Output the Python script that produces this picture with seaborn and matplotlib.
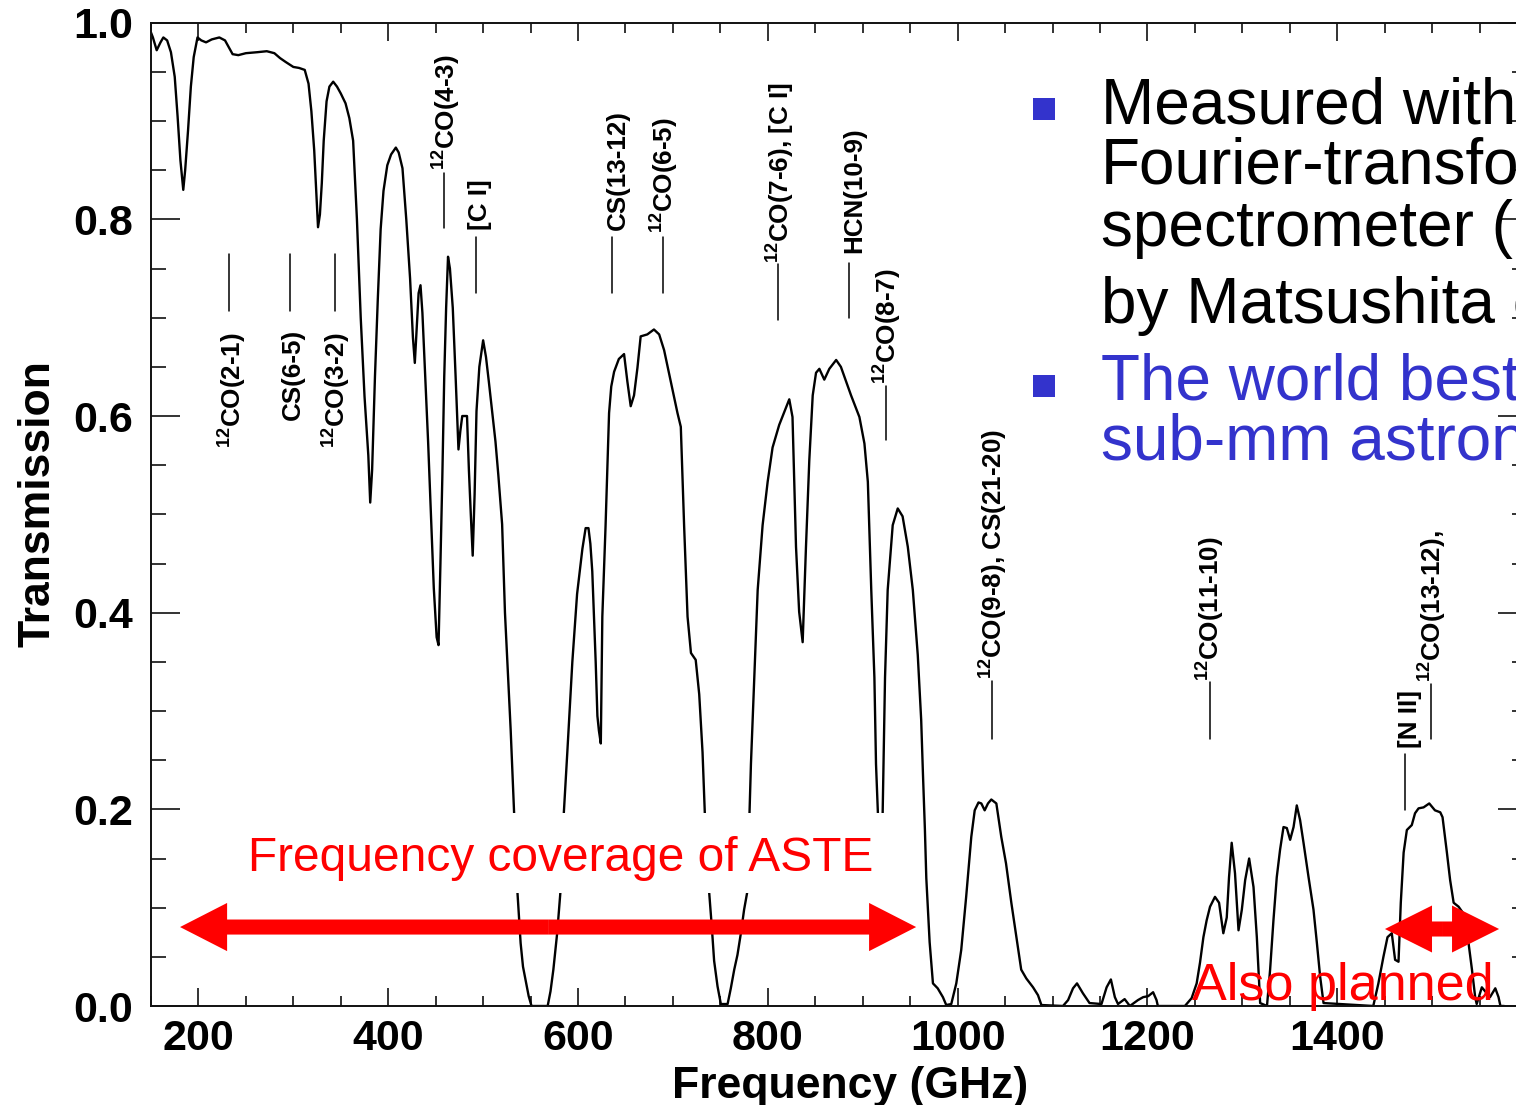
import numpy as np
import pandas as pd
import matplotlib
matplotlib.use("Agg")
import matplotlib.pyplot as plt
from matplotlib.patches import FancyArrow, Rectangle
from matplotlib.ticker import MultipleLocator, FixedLocator, FormatStrFormatter
import seaborn as sns

# ---------------- data ----------------
freq = [150, 152, 156, 160, 163, 167, 171, 175, 178, 181, 184, 186, 189, 192, 195, 199,
        203, 208, 214, 222, 228, 232, 236, 242, 250, 262, 272, 280, 286, 292, 300, 306,
        312, 316, 319, 322, 324, 326, 328, 330, 332, 335, 338, 342, 346, 350, 355, 359,
        363, 367, 371, 375, 379, 381, 383, 386, 389, 392, 395, 399, 403, 408, 411, 415,
        419, 423, 426, 428, 430, 432, 434, 436, 439, 442, 445, 448, 451, 453, 455, 457,
        459, 461, 463, 465, 468, 471, 474, 476, 478, 483, 485, 487, 489, 491, 493, 496,
        500, 503, 506, 510, 513, 516, 520, 523, 526, 529, 532, 534, 536, 539.5, 542, 545,
        548, 551, 568, 571, 574, 578, 581.6, 585, 588.7, 594, 599, 604.6, 608, 611, 613,
        615, 618.6, 620.4, 622, 624, 625.6, 629, 632.7, 635, 638, 643, 648.5, 652, 655.5,
        659, 662.6, 666, 673, 680, 685.5, 690.7, 697.8, 704.8, 708.3, 711.8, 715.4, 719,
        724, 727.7, 731.2, 733.6, 736, 738, 741, 743.4, 747, 750.5, 757.6, 761, 764.6,
        768, 771.6, 775, 778.7, 780.5, 782.2, 785.7, 789.3, 794.5, 799.8, 805, 812, 817.3,
        822.6, 826, 829.7, 833, 836.7, 840.2, 843.7, 847.3, 850.8, 854.3, 859.5, 864.8,
        872, 877, 887.7, 896.5, 901.8, 905.4, 909, 912.3, 914, 916, 918, 920, 921, 923.5,
        926.3, 931.6, 936.9, 942, 947.5, 952.8, 958, 961.6, 963.5, 965.5, 967, 970.5, 974,
        979, 984.5, 988, 993.3, 998.6, 1003.8, 1009, 1014.4, 1018, 1022, 1025, 1028.5,
        1032, 1035.5, 1040.8, 1046, 1051, 1056.6, 1061.9, 1067, 1072.4, 1079.5, 1084.7,
        1088.3, 1111, 1116.4, 1121.6, 1125.8, 1132, 1139, 1151.6, 1157, 1161.5, 1165.7,
        1169, 1176, 1181.5, 1190, 1195.5, 1200.8, 1206, 1209.6, 1211, 1239.5, 1246.6,
        1251.9, 1255.4, 1259, 1262.4, 1266, 1271.2, 1275.5, 1280, 1283.6, 1286, 1288.8,
        1292.3, 1296, 1299.5, 1303, 1307.2, 1311.8, 1315.3, 1318.8, 1326, 1329.3, 1332.8,
        1336.3, 1339.8, 1343.4, 1346.9, 1350.4, 1354, 1357.4, 1360.9, 1364.5, 1369.8,
        1375, 1378.6, 1382, 1385.6, 1438, 1443.4, 1448.7, 1453, 1457.5, 1461, 1464.6,
        1467, 1470, 1473.4, 1478.6, 1482, 1485.7, 1491, 1497, 1503, 1508.6, 1511, 1515.6,
        1519, 1522.7, 1527.9, 1533, 1538.4, 1542, 1545.4, 1547, 1552.4, 1557.6, 1561,
        1566.6, 1570, 1572, 1576]
trans = [0.990, 0.985, 0.972, 0.980, 0.985, 0.982, 0.970, 0.945, 0.905, 0.860, 0.830, 0.850,
         0.890, 0.935, 0.965, 0.985, 0.982, 0.980, 0.983, 0.985, 0.982, 0.975, 0.968, 0.967,
         0.969, 0.970, 0.971, 0.969, 0.964, 0.960, 0.955, 0.954, 0.952, 0.938, 0.910, 0.870,
         0.830, 0.792, 0.805, 0.837, 0.880, 0.920, 0.935, 0.940, 0.935, 0.928, 0.918, 0.903,
         0.880, 0.800, 0.700, 0.620, 0.560, 0.512, 0.545, 0.640, 0.719, 0.790, 0.829, 0.855,
         0.866, 0.873, 0.868, 0.852, 0.800, 0.740, 0.680, 0.654, 0.690, 0.725, 0.733, 0.705,
         0.640, 0.574, 0.500, 0.425, 0.375, 0.367, 0.450, 0.538, 0.640, 0.710, 0.762, 0.750,
         0.710, 0.640, 0.566, 0.585, 0.600, 0.600, 0.545, 0.500, 0.458, 0.520, 0.605, 0.650,
         0.677, 0.660, 0.635, 0.600, 0.574, 0.540, 0.490, 0.400, 0.340, 0.281, 0.211, 0.165,
         0.118, 0.064, 0.040, 0.025, 0.010, 0.000, 0.000, 0.015, 0.037, 0.074, 0.118, 0.196,
         0.258, 0.350, 0.419, 0.465, 0.486, 0.486, 0.470, 0.442, 0.350, 0.295, 0.280, 0.267,
         0.396, 0.488, 0.603, 0.630, 0.645, 0.658, 0.663, 0.635, 0.610, 0.621, 0.649, 0.681,
         0.683, 0.688, 0.683, 0.667, 0.635, 0.603, 0.589, 0.488, 0.396, 0.359, 0.352, 0.317,
         0.258, 0.196, 0.150, 0.118, 0.080, 0.046, 0.020, 0.002, 0.002, 0.018, 0.037, 0.052,
         0.074, 0.098, 0.118, 0.190, 0.246, 0.334, 0.423, 0.489, 0.533, 0.568, 0.591, 0.604,
         0.617, 0.599, 0.467, 0.401, 0.370, 0.467, 0.555, 0.621, 0.644, 0.648, 0.637, 0.648,
         0.657, 0.650, 0.621, 0.599, 0.572, 0.533, 0.423, 0.334, 0.246, 0.196, 0.160, 0.165,
         0.196, 0.334, 0.423, 0.489, 0.506, 0.498, 0.467, 0.423, 0.357, 0.291, 0.235, 0.180,
         0.130, 0.065, 0.023, 0.018, 0.009, 0.001, 0.002, 0.023, 0.057, 0.111, 0.172, 0.199,
         0.207, 0.206, 0.199, 0.206, 0.210, 0.206, 0.172, 0.145, 0.105, 0.070, 0.037, 0.028,
         0.019, 0.011, 0.001, 0.000, 0.006, 0.018, 0.023, 0.013, 0.003, 0.002, 0.019, 0.027,
         0.009, 0.002, 0.007, 0.000, 0.006, 0.009, 0.010, 0.014, 0.006, 0.000, 0.000, 0.008,
         0.023, 0.044, 0.070, 0.087, 0.101, 0.111, 0.105, 0.074, 0.090, 0.131, 0.166, 0.135,
         0.077, 0.098, 0.128, 0.150, 0.121, 0.070, 0.003, 0.000, 0.037, 0.087, 0.131, 0.159,
         0.182, 0.181, 0.169, 0.182, 0.204, 0.189, 0.166, 0.131, 0.098, 0.064, 0.030, 0.003,
         0.000, 0.023, 0.050, 0.070, 0.074, 0.047, 0.045, 0.105, 0.156, 0.179, 0.184, 0.196,
         0.201, 0.202, 0.206, 0.199, 0.197, 0.192, 0.156, 0.128, 0.105, 0.101, 0.094, 0.064,
         0.037, 0.009, 0.002, 0.019, 0.013, 0.009, 0.018, 0.009, 0.000, 0.000]

# molecular line labels: text, line frequency, line bottom/top (transmission)
line_names = ["$^{12}$CO(2-1)", "CS(6-5)", "$^{12}$CO(3-2)", "$^{12}$CO(4-3)", "[C I]",
              "CS(13-12)", "$^{12}$CO(6-5)", "$^{12}$CO(7-6), [C I]", "HCN(10-9)",
              "$^{12}$CO(8-7)", "$^{12}$CO(9-8), CS(21-20)", "$^{12}$CO(11-10)", "[N II]",
              "$^{12}$CO(13-12),"]
line_freq = [232.3, 296.7, 344.2, 459.2, 493.0, 636.2, 689.3, 810.7, 885.3, 924.7,
             1036.2, 1265.6, 1471.4, 1498.8]
line_lo = [0.707, 0.707, 0.707, 0.791, 0.725, 0.725, 0.725, 0.698, 0.700, 0.576,
           0.272, 0.272, 0.199, 0.272]
line_hi = [0.765, 0.765, 0.765, 0.847, 0.782, 0.782, 0.782, 0.755, 0.756, 0.631,
           0.331, 0.329, 0.256, 0.327]
label_below = [True, True, True, False, False, False, False, False, False, False,
               False, False, False, False]
label_x = [236.0, 299.9, 346.0, 462.1, 497.2, 641.8, 691.4, 813.9, 890.9, 926.5,
           1038.7, 1266.6, 1476.7, 1500.9]
label_y = [0.685, 0.689, 0.685, 0.850, 0.789, 0.789, 0.786, 0.756, 0.766, 0.633,
           0.333, 0.331, 0.262, 0.330]

xticks = [200, 400, 600, 800, 1000, 1200, 1400]
yticks = [0.0, 0.2, 0.4, 0.6, 0.8, 1.0]

bullet_black = ["Measured with a", "Fourier-transform", "spectrometer (FTS)",
                "by Matsushita et al."]
bullet_blue = ["The world best site for", "sub-mm astronomy"]

# ---------------- style ----------------
sns.set_theme(style="ticks")
plt.rcParams["font.family"] = ["Liberation Sans", "DejaVu Sans"]
plt.rcParams["mathtext.fontset"] = "custom"
plt.rcParams["mathtext.rm"] = "Liberation Sans"
plt.rcParams["mathtext.default"] = "regular"
plt.rcParams["text.color"] = "black"
plt.rcParams["axes.labelcolor"] = "black"

W, H = 1516, 1105
fig = plt.figure(figsize=(W / 100, H / 100), dpi=100)
fig.patch.set_facecolor("white")
ax = fig.add_axes([151 / W, 1 - 1006 / H, (1527 - 151) / W, (1006 - 22.7) / H])
ax.set_facecolor("white")

df = pd.DataFrame({"Frequency": freq, "Transmission": trans})
sns.lineplot(data=df, x="Frequency", y="Transmission", ax=ax, color="black",
             linewidth=1.7, estimator=None, sort=False, zorder=2)

ax.set_xlim(150, 1600)
ax.set_ylim(0, 1.0)
ax.xaxis.set_major_locator(FixedLocator(xticks))
ax.xaxis.set_minor_locator(MultipleLocator(50))
ax.yaxis.set_major_locator(FixedLocator(yticks))
ax.yaxis.set_minor_locator(MultipleLocator(0.05))
ax.yaxis.set_major_formatter(FormatStrFormatter("%.1f"))
for s in ax.spines.values():
    s.set_linewidth(1.4)
    s.set_color("#111111")
    s.set_visible(True)
ax.tick_params(axis="both", which="both", direction="in", top=True, right=True,
               colors="#111111", width=1.2, labelcolor="black")
ax.tick_params(axis="y", which="major", length=21, labelsize=31, pad=13)
ax.tick_params(axis="y", which="minor", length=10.5)
ax.tick_params(axis="x", which="major", length=13, labelsize=31, pad=9)
ax.tick_params(axis="x", which="minor", length=7)
for lbl in ax.get_xticklabels() + ax.get_yticklabels():
    lbl.set_fontweight("bold")
ax.set_xlabel("Frequency (GHz)", fontsize=32, fontweight="bold", color="black")
ax.set_ylabel("Transmission", fontsize=32, fontweight="bold", color="black")
ax.xaxis.set_label_coords(0.508, -0.061)
ax.yaxis.set_label_coords(-0.0675, 0.5105)

# molecular line markers
for name, f, lo, hi, below, tx, ty in zip(line_names, line_freq, line_lo, line_hi,
                                          label_below, label_x, label_y):
    ax.plot([f, f], [lo, hi], color="black", lw=1.1, zorder=3)
    ax.text(tx, ty, name, rotation=90, ha="center", va="top" if below else "bottom",
            fontsize=18.7, fontweight="bold", color="black", zorder=3)

# red annotations
red = "#ff0000"
# white mask behind the ASTE caption
ax.add_patch(Rectangle((243.9, 0.115), 925.7 - 243.9, 0.196 - 0.115, facecolor="white",
                       edgecolor="none", zorder=4))
ax.text(252, 0.137, "Frequency coverage of ASTE", fontsize=34.5, color=red,
        ha="left", va="baseline", zorder=5)
for x0, x1 in [(568.45, 180.6), (568.45, 956.3)]:
    ax.add_patch(FancyArrow(x0, 0.0803, x1 - x0, 0, width=0.0153, head_width=0.049,
                            head_length=49.6, length_includes_head=True, color=red,
                            lw=0, zorder=6))
for x0, x1 in [(1510.45, 1450.3), (1510.45, 1570.6)]:
    ax.add_patch(FancyArrow(x0, 0.0783, x1 - x0, 0, width=0.0153, head_width=0.0478,
                            head_length=49.6, length_includes_head=True, color=red,
                            lw=0, zorder=6))
ax.text(1247, 0.0061, "Also planned", fontsize=37.5, color=red, ha="left",
        va="baseline", zorder=7)

# right-hand bullet text (runs off the right edge, as in the reference slide)
blue = "#3333cc"
baselines_black = [123, 184, 246, 323]
baselines_blue = [399, 460]
for txt, b in zip(bullet_black, baselines_black):
    fig.text(1101 / W, 1 - b / H, txt, fontsize=46, color="black", ha="left",
             va="baseline")
for txt, b in zip(bullet_blue, baselines_blue):
    fig.text(1101 / W, 1 - b / H, txt, fontsize=46, color=blue, ha="left",
             va="baseline")
for top in [98, 375]:
    fig.add_artist(Rectangle((1033 / W, 1 - (top + 22) / H), 22 / W, 22 / H,
                             transform=fig.transFigure, facecolor=blue,
                             edgecolor="none"))

fig.savefig("out.png", dpi=100)
